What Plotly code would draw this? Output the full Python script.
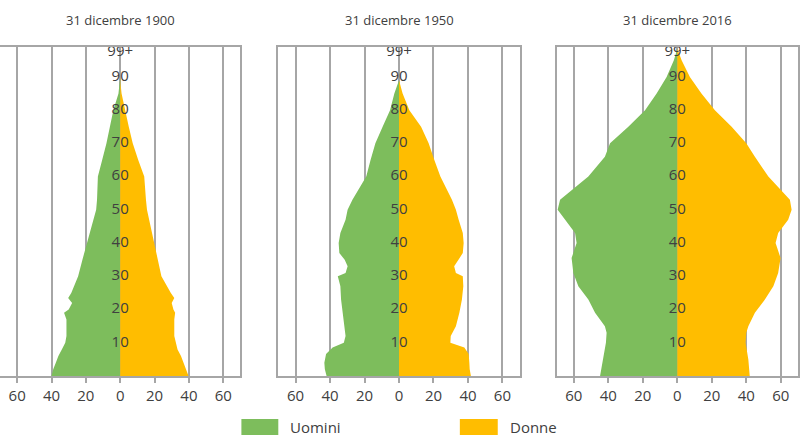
import plotly.graph_objects as go

# ---------------- data ----------------
titles = ["31 dicembre 1900", "31 dicembre 1950", "31 dicembre 2016"]

ages_1900 = [0, 2, 4, 6, 8, 10, 12, 17, 19, 20, 22, 23.5, 25, 30, 35, 40, 45, 50, 53, 60, 65, 70, 75, 80, 85, 88, 90]
men_1900 = [40, 39, 37.5, 36, 34, 32, 31.3, 31.3, 32.7, 30, 28, 30.3, 28.5, 24.5, 22, 19.3, 17, 14, 13.5, 13, 10.5, 8, 6, 4, 1, 0.2, 0]
women_1900 = [39.8, 38.3, 37, 35.4, 33.4, 32.5, 31.5, 31.5, 32, 31, 30, 31.5, 29.5, 24, 22, 20, 18, 15.6, 15, 14, 10.5, 7.3, 5, 3, 0.8, 0.2, 0]

ages_1950 = [0, 2, 4, 6.6, 8.6, 10, 12, 15, 19, 23, 27, 30, 31, 33, 35, 37, 40, 43, 47, 50, 53, 60, 65, 70, 75, 80, 85, 89]
men_1950 = [42, 43, 43.3, 42.3, 38.5, 32, 31, 31.7, 32.7, 33.6, 34, 35.5, 31, 29.8, 31.5, 34.6, 35, 34, 31, 29.8, 27, 19, 16.5, 13.7, 9.5, 5.2, 2.7, 0]
women_1950 = [41.7, 41, 40.8, 40.4, 37.9, 29.8, 30, 33, 35, 36.5, 37.3, 37, 33, 32, 34.5, 37, 37.5, 37, 34.6, 33, 30.7, 24, 20.5, 17.2, 12.8, 6, 2.1, 0]

ages_2016 = [0, 5, 10, 13, 15, 19, 23, 27, 31, 35.5, 40, 43, 47, 50, 53, 60, 66, 70, 75, 80, 85, 90, 95, 98.5]
men_2016 = [44.8, 43, 41.4, 41, 42, 47.7, 51.6, 57.4, 60.3, 61.3, 58.4, 59.3, 65, 69.4, 68, 51.6, 42, 39, 28.4, 18.7, 12, 6.2, 2, 0]
women_2016 = [42, 41.2, 39.6, 40, 41.2, 45, 50.8, 55.7, 58.5, 59.9, 57, 58.5, 64.3, 66.3, 65.3, 52.8, 45, 40, 31.5, 21.8, 14, 7.3, 2.5, 0]

age_label_vals = [10, 20, 30, 40, 50, 60, 70, 80, 90, 97.5]
age_label_text = ["10", "20", "30", "40", "50", "60", "70", "80", "90", "99+"]

x_tick_vals = [-60, -40, -20, 0, 20, 40, 60]
x_tick_text = ["60", "40", "20", "0", "20", "40", "60"]

series_names = ["Uomini", "Donne"]

# ---------------- style ----------------
GREEN = "#7dbd5c"
YELLOW = "#ffbd00"
GRID = "#a6a6a6"
TEXT = "#404040"
FONT = "Open Sans"

panels = [
    (ages_1900, men_1900, women_1900),
    (ages_1950, men_1950, women_1950),
    (ages_2016, men_2016, women_2016),
]
domains = [[0.0, 241 / 800], [279 / 800, 521 / 800], [558 / 800, 1.0]]
ydom = [1 - 376 / 440, 1 - 47 / 440]

fig = go.Figure()
for i, (ages, men, women) in enumerate(panels):
    sfx = "" if i == 0 else str(i + 1)
    xa, ya = "x" + sfx, "y" + sfx
    fig.add_trace(go.Scatter(
        x=[-v for v in men], y=ages, xaxis=xa, yaxis=ya,
        mode="lines", line=dict(width=0, color=GREEN),
        fill="tozerox", fillcolor=GREEN, name=series_names[0],
        showlegend=False, hoverinfo="skip"))
    fig.add_trace(go.Scatter(
        x=women, y=ages, xaxis=xa, yaxis=ya,
        mode="lines", line=dict(width=0, color=YELLOW),
        fill="tozerox", fillcolor=YELLOW, name=series_names[1],
        showlegend=False, hoverinfo="skip"))
    fig.add_trace(go.Scatter(
        x=[0] * len(age_label_vals), y=age_label_vals, xaxis=xa, yaxis=ya,
        mode="text", text=age_label_text,
        textfont=dict(family=FONT, size=15, color=TEXT),
        showlegend=False, hoverinfo="skip"))

    fig.layout["xaxis" + sfx] = dict(
        domain=domains[i], range=[-70, 70], anchor=ya,
        tickvals=x_tick_vals, ticktext=x_tick_text,
        showgrid=True, gridcolor=GRID, gridwidth=1.5,
        zeroline=True, zerolinecolor=GRID, zerolinewidth=1.5,
        showline=True, linecolor=GRID, linewidth=1.5, mirror=True,
        ticks="outside", ticklen=5, tickcolor=GRID, tickwidth=1.5,
        tickfont=dict(family=FONT, size=15, color=TEXT),
        fixedrange=True)
    fig.layout["yaxis" + sfx] = dict(
        domain=ydom, range=[0, 99], anchor=xa,
        showgrid=False, zeroline=False, showticklabels=False, ticks="",
        showline=True, linecolor=GRID, linewidth=1.5, mirror=True,
        fixedrange=True)

    fig.add_annotation(
        x=sum(domains[i]) / 2, y=1 - 20 / 440, xref="paper", yref="paper",
        text=titles[i], showarrow=False,
        font=dict(family=FONT, size=13, color=TEXT),
        xanchor="center", yanchor="middle")

# legend (drawn manually to match box style)
legend_items = [(242, 279, GREEN, series_names[0]), (461, 499, YELLOW, series_names[1])]
for x0, x1, col, label in legend_items:
    fig.add_shape(type="rect", xref="paper", yref="paper",
                  x0=x0 / 800, x1=x1 / 800, y0=1 - 435 / 440, y1=1 - 419 / 440,
                  fillcolor=col, line=dict(width=0))
    fig.add_annotation(x=(x1 + 10) / 800, y=1 - 427 / 440, xref="paper", yref="paper",
                       text=label, showarrow=False, xanchor="left", yanchor="middle",
                       font=dict(family=FONT, size=15, color=TEXT))

fig.update_layout(
    width=800, height=440,
    margin=dict(l=0, r=0, t=0, b=0),
    paper_bgcolor="white", plot_bgcolor="white",
    showlegend=False,
)

fig.write_html("out.html")
